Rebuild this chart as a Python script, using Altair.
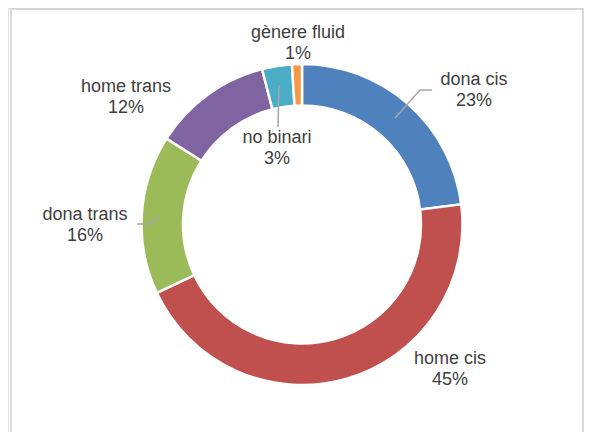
import altair as alt
import pandas as pd

# ---- data ----
categories = ["dona cis", "home cis", "dona trans", "home trans", "no binari", "gènere fluid"]
values = [23, 45, 16, 12, 3, 1]
colors = ["#4F81BD", "#C0504D", "#9BBB59", "#8064A2", "#4BACC6", "#F79646"]

# ---- layout (page pixel coordinates, converted below) ----
OFF = 8
center = (302, 224.5)
label_pos = {
    "dona cis": (474, 80),
    "home cis": (450, 359),
    "dona trans": (85, 215),
    "home trans": (126, 87),
    "no binari": (277, 138),
    "gènere fluid": (298, 33),
}
line_gap = 21
leaders = [
    ("dona cis", [(395, 118), (420, 90), (432, 90)]),
    ("dona trans", [(137, 224), (148, 224), (160, 217)]),
    ("no binari", [(279, 85), (278, 127)]),
]

W, H = 576, 424

df = pd.DataFrame({"cat": categories, "value": values, "idx": list(range(len(categories)))})

arcs = alt.Chart(df).mark_arc(
    innerRadius=119, outerRadius=160.5, stroke="white", strokeWidth=2.5
).encode(
    theta=alt.Theta("value:Q", stack=True),
    color=alt.Color("cat:N", scale=alt.Scale(domain=categories, range=colors), legend=None),
    order=alt.Order("idx:Q"),
    x=alt.value(center[0] - OFF),
    y=alt.value(center[1] - OFF),
)

lab_rows = []
for c, v in zip(categories, values):
    px, py = label_pos[c]
    lab_rows.append({"x": px - OFF, "y": py - OFF, "t": c})
    lab_rows.append({"x": px - OFF, "y": py - OFF + line_gap, "t": f"{v}%"})
lab_df = pd.DataFrame(lab_rows)

labels = alt.Chart(lab_df).mark_text(
    font="Liberation Sans", fontSize=18, color="#404040", align="center", baseline="middle"
).encode(
    x=alt.X("x:Q", scale=None, axis=None),
    y=alt.Y("y:Q", scale=None, axis=None),
    text="t:N",
)

seg_rows = []
for name, pts in leaders:
    for i in range(len(pts) - 1):
        (x1, y1), (x2, y2) = pts[i], pts[i + 1]
        seg_rows.append({"x": x1 - OFF, "y": y1 - OFF, "x2": x2 - OFF, "y2": y2 - OFF})
seg_df = pd.DataFrame(seg_rows)

lines = alt.Chart(seg_df).mark_rule(color="#A6A6A6", strokeWidth=1.5).encode(
    x=alt.X("x:Q", scale=None, axis=None),
    y=alt.Y("y:Q", scale=None, axis=None),
    x2="x2:Q",
    y2="y2:Q",
)

border = alt.Chart(pd.DataFrame({"a": [0]})).mark_rect(
    fill="white", stroke="#D0D0D0", strokeWidth=1.5
).encode(
    x=alt.value(11 - OFF),
    x2=alt.value(W - 1),
    y=alt.value(1),
    y2=alt.value(H + 20),
)

chart = alt.layer(border, arcs, lines, labels).properties(
    width=W, height=H, autosize=alt.AutoSizeParams(type="none"), padding=0
).configure_view(stroke=None).configure(background="white")

chart.save("out.html", embed_options={"renderer": "svg", "actions": False})
